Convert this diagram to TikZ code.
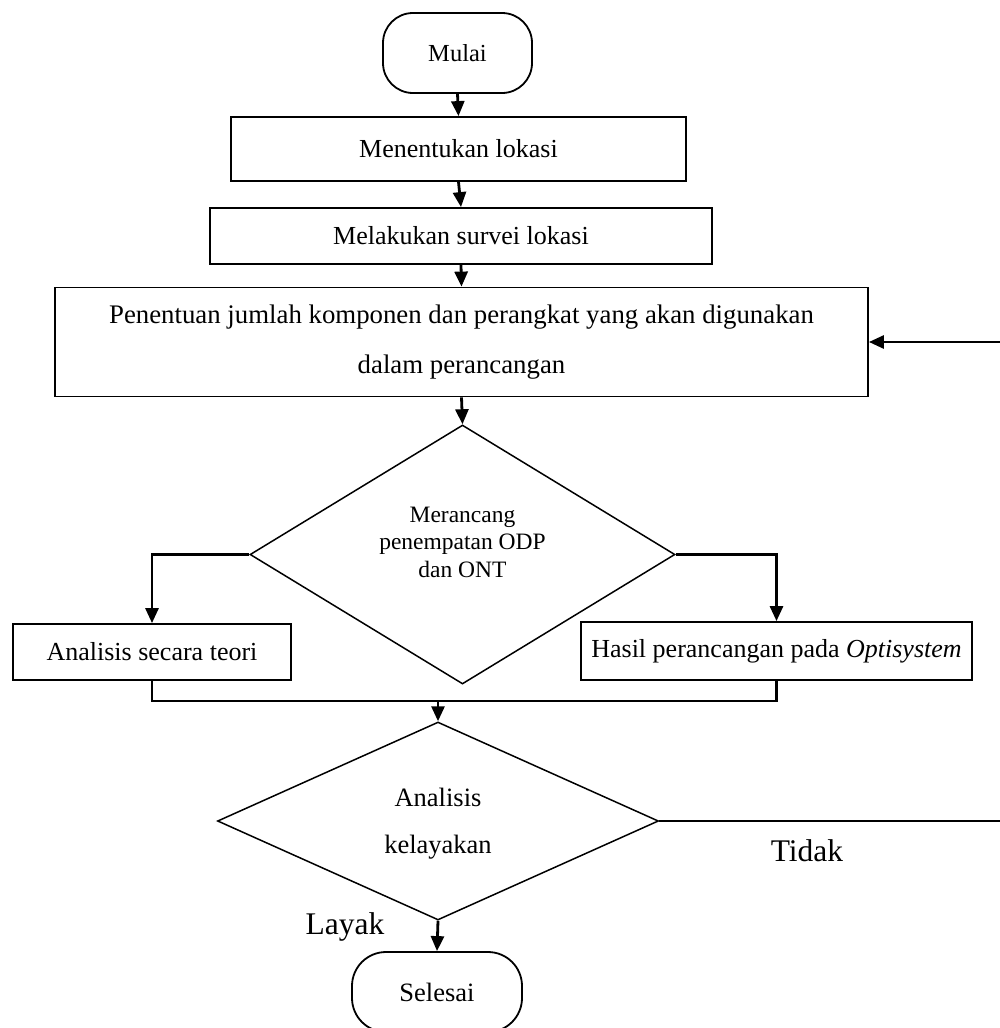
\documentclass[tikz,border=0pt]{standalone}
\usepackage{fontspec}
\setmainfont{Liberation Serif}
\usetikzlibrary{arrows.meta,shapes.geometric,calc}
\begin{document}
\begin{tikzpicture}[x=1pt,y=-1pt,
  box/.style={draw, line width=1.8pt, rectangle, inner sep=0pt, align=center,
    font=\fontsize{26}{30}\selectfont},
  term/.style={draw, line width=1.8pt, rectangle, inner sep=0pt, align=center,
    font=\fontsize{24.5}{30}\selectfont},
  dec/.style={draw, line width=1.5pt, diamond, inner sep=0pt},
  conn/.style={line width=2.8pt},
  arr/.style={line width=2.8pt, -{Triangle[length=15pt,width=13pt]}},
  lbl/.style={inner sep=0pt, font=\fontsize{31.5}{36}\selectfont}
]
\useasboundingbox (0,0) rectangle (1000,1028);
\clip (0,0) rectangle (1000,1028);

% terminals and boxes
\node[term, minimum width=149pt, minimum height=80pt, rounded corners=30pt] (start) at (457.5,53) {Mulai};
\node[box, minimum width=455pt, minimum height=64pt] (lok) at (458.5,149) {Menentukan lokasi};
\node[box, minimum width=502pt, minimum height=56pt] (sur) at (461,236) {Melakukan survei lokasi};
\node[box, minimum width=813pt, minimum height=109pt, font=\fontsize{26.8}{50}\selectfont] (pen) at (461.5,342)
  {Penentuan jumlah komponen dan perangkat yang akan digunakan\\dalam perancangan};

% decision 1
\node[dec, minimum width=425pt, minimum height=259pt] (d1) at (462.5,554.5) {};
\node[inner sep=0pt, align=center, font=\fontsize{23.5}{27.5}\selectfont] (d1t) at (462.5,542) {Merancang\\penempatan ODP\\dan ONT};

\node[box, minimum width=278pt, minimum height=56pt] (lb) at (152,652) {Analisis secara teori};
\node[box, minimum width=391pt, minimum height=58pt] (rb) at (776.5,651) {Hasil perancangan pada \textit{Optisystem}};

% decision 2
\node[dec, minimum width=441pt, minimum height=198pt] (d2) at (438,821) {};
\node[inner sep=0pt, align=center, font=\fontsize{26.5}{47}\selectfont] (d2t) at (438,823.5) {Analisis\\kelayakan};

\node[term, minimum width=170pt, minimum height=80pt, rounded corners=34pt, font=\fontsize{26.5}{30}\selectfont] (end) at (437,992) {Selesai};

% labels
\node[lbl] (layak) at (345,927) {Layak};
\node[lbl] (tidak) at (807,851) {Tidak};

% coordinates
\coordinate (mj) at (438,701);
\coordinate (eR) at (1000,821);
\coordinate (eT) at (1000,342);

% connectors
\draw[arr] (start.south) -- (lok.north);
\draw[arr] (lok.south) -- (sur.north);
\draw[arr] (sur.south) -- (pen.north);
\draw[arr] (pen.south) -- (d1.north);
\draw[arr] (d1.west) -| (lb.north);
\draw[arr] (d1.east) -| (rb.north);
\draw[conn] (lb.south) |- (mj) -| (rb.south);
\draw[arr] (mj) -- (d2.north);
\draw[arr] (d2.south) -- (end.north);
\draw[conn] (d2.east) -- (eR);
\draw[arr] (eT) -- (pen.east);
\end{tikzpicture}
\end{document}
